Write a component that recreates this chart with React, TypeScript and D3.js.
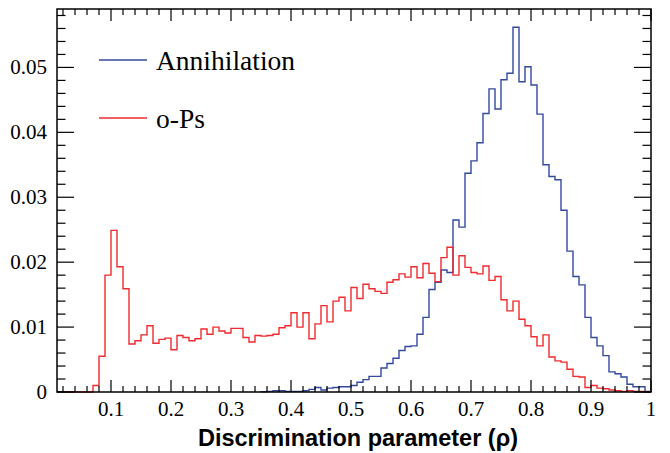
import React from "react";
import * as d3 from "d3";

// bin lower edges: 0.01 .. 0.99, width 0.01
const binWidth = 0.01;
const binStart = 0.01;

const oPs = [
  0, 0, 0, 0, 0, 0, 0.0010, 0.0055, 0.0180, 0.0249,
  0.0193, 0.0159, 0.0074, 0.0079, 0.0088, 0.0102, 0.0075, 0.0081, 0.0083, 0.0065,
  0.0087, 0.0084, 0.0079, 0.0082, 0.0097, 0.0089, 0.0100, 0.0094, 0.0091, 0.0098,
  0.0098, 0.0084, 0.0077, 0.0087, 0.0086, 0.0087, 0.0089, 0.0099, 0.0102, 0.0122,
  0.0100, 0.0122, 0.0082, 0.0105, 0.0133, 0.0108, 0.0140, 0.0146, 0.0125, 0.0161,
  0.0144, 0.0166, 0.0159, 0.0155, 0.0152, 0.0169, 0.0173, 0.0182, 0.0177, 0.0193,
  0.0176, 0.0198, 0.0183, 0.0170, 0.0207, 0.0223, 0.0180, 0.0210, 0.0192, 0.0184,
  0.0182, 0.0194, 0.0172, 0.0178, 0.0142, 0.0125, 0.0140, 0.0112, 0.0102, 0.0085,
  0.0071, 0.0088, 0.0054, 0.0048, 0.0046, 0.0035, 0.0024, 0.0023, 0.0007, 0.0010,
  0.0006, 0.0005, 0.0003, 0.0002, 0.0001, 0.0002, 0.0001, 0.0001, 0.0000,
];

const annihilation = [
  0, 0, 0, 0, 0, 0, 0, 0, 0, 0,
  0, 0, 0, 0, 0, 0, 0, 0, 0, 0,
  0, 0, 0, 0, 0, 0, 0, 0, 0, 0,
  0, 0, 0, 0, 0.00005, 0.0001, 0.0002, 0.0002, 0.0001, 0.0001,
  0.0001, 0.0002, 0.0004, 0.0007, 0.0003, 0.0006, 0.0007, 0.0008, 0.0008, 0.0010,
  0.0015, 0.0019, 0.0024, 0.0024, 0.0037, 0.0044, 0.0052, 0.0064, 0.0070, 0.0071,
  0.0089, 0.0115, 0.0158, 0.0169, 0.0188, 0.0184, 0.0265, 0.0254, 0.0337, 0.0356,
  0.0384, 0.0429, 0.0467, 0.0436, 0.0481, 0.0491, 0.0562, 0.0478, 0.0501, 0.0473,
  0.0428, 0.0350, 0.0332, 0.0327, 0.0280, 0.0217, 0.0178, 0.0165, 0.0115, 0.0084,
  0.0071, 0.0056, 0.0031, 0.0028, 0.0023, 0.0012, 0.0008, 0.0008, 0.0001,
];

const xTickValues = [0.1, 0.2, 0.3, 0.4, 0.5, 0.6, 0.7, 0.8, 0.9, 1.0];
const xTickLabels = ["0.1", "0.2", "0.3", "0.4", "0.5", "0.6", "0.7", "0.8", "0.9", "1"];
const yTickValues = [0, 0.01, 0.02, 0.03, 0.04, 0.05];
const yTickLabels = ["0", "0.01", "0.02", "0.03", "0.04", "0.05"];

const legendLabels = ["Annihilation", "o-Ps"];
const xTitle = "Discrimination parameter (\u03c1)";

const W = 670;
const H = 453;
const M = { left: 57, right: 651, top: 9, bottom: 392 };
const BLUE = "#34499c";
const RED = "#ee2b2f";

function stepPath(vals: number[], x: d3.ScaleLinear<number, number>, y: d3.ScaleLinear<number, number>, skipLeadingZeros: boolean) {
  let first = 0;
  if (skipLeadingZeros) {
    while (first < vals.length && vals[first] === 0) first++;
  }
  const pts: [number, number][] = [];
  const x0 = binStart + first * binWidth;
  pts.push([x(x0), y(0)]);
  for (let i = first; i < vals.length; i++) {
    const lo = binStart + i * binWidth;
    const hi = lo + binWidth;
    pts.push([x(lo), y(vals[i])]);
    pts.push([x(hi), y(vals[i])]);
  }
  pts.push([x(binStart + vals.length * binWidth), y(0)]);
  return d3.line()(pts) as string;
}

export default function App() {
  const x = d3.scaleLinear().domain([0.01, 1.0]).range([M.left, M.right]);
  const y = d3.scaleLinear().domain([0, 0.059]).range([M.bottom, M.top]);

  const xMinor = d3.range(0.02, 0.99, 0.02).filter((v) => Math.abs(v * 10 - Math.round(v * 10)) > 1e-6);
  const yMinor = d3.range(0.002, 0.059, 0.002).filter((v) => Math.abs(v * 100 - Math.round(v * 100)) > 1e-6);

  const serif = "Liberation Serif";
  const sans = "Liberation Sans";

  return (
    <svg width={W} height={H} style={{ position: "fixed", left: 0, top: 0, background: "#fff" }}>
      <rect x={0} y={0} width={W} height={H} fill="#fff" />
      {/* histograms */}
      <path d={stepPath(annihilation, x, y, true)} fill="none" stroke={BLUE} strokeWidth={1.4} />
      <path d={stepPath(oPs, x, y, false)} fill="none" stroke={RED} strokeWidth={1.4} />

      {/* frame */}
      <rect x={M.left} y={M.top} width={M.right - M.left} height={M.bottom - M.top} fill="none" stroke="#000" strokeWidth={1.5} />

      {/* x ticks bottom & top */}
      {xTickValues.map((v) => (
        <g key={"xm" + v}>
          <line x1={x(v)} x2={x(v)} y1={M.bottom} y2={M.bottom - 12} stroke="#000" strokeWidth={1.2} />
          <line x1={x(v)} x2={x(v)} y1={M.top} y2={M.top + 12} stroke="#000" strokeWidth={1.2} />
        </g>
      ))}
      {xMinor.map((v) => (
        <g key={"xn" + v}>
          <line x1={x(v)} x2={x(v)} y1={M.bottom} y2={M.bottom - 6} stroke="#000" strokeWidth={1.2} />
          <line x1={x(v)} x2={x(v)} y1={M.top} y2={M.top + 6} stroke="#000" strokeWidth={1.2} />
        </g>
      ))}
      {/* y ticks left & right */}
      {yTickValues.map((v) => (
        <g key={"ym" + v}>
          <line x1={M.left} x2={M.left + 17} y1={y(v)} y2={y(v)} stroke="#000" strokeWidth={1.2} />
          <line x1={M.right} x2={M.right - 17} y1={y(v)} y2={y(v)} stroke="#000" strokeWidth={1.2} />
        </g>
      ))}
      {yMinor.map((v) => (
        <g key={"yn" + v}>
          <line x1={M.left} x2={M.left + 8.5} y1={y(v)} y2={y(v)} stroke="#000" strokeWidth={1.2} />
          <line x1={M.right} x2={M.right - 8.5} y1={y(v)} y2={y(v)} stroke="#000" strokeWidth={1.2} />
        </g>
      ))}

      {/* tick labels */}
      {xTickValues.map((v, i) => (
        <text key={"xl" + v} x={x(v)} y={416} textAnchor="middle" fontFamily={serif} fontSize={21} fill="#000">
          {xTickLabels[i]}
        </text>
      ))}
      {yTickValues.map((v, i) => (
        <text key={"yl" + v} x={47} y={y(v) + 7} textAnchor="end" fontFamily={serif} fontSize={21} fill="#000">
          {yTickLabels[i]}
        </text>
      ))}

      {/* axis title */}
      <text x={358} y={446} textAnchor="middle" fontFamily={sans} fontWeight="bold" fontSize={23.5} fill="#000">
        {xTitle}
      </text>

      {/* legend */}
      <line x1={99} x2={147} y1={60} y2={60} stroke={BLUE} strokeWidth={1.4} />
      <text x={156} y={70} fontFamily={serif} fontSize={27.5} fill="#000">{legendLabels[0]}</text>
      <line x1={99} x2={147} y1={118} y2={118} stroke={RED} strokeWidth={1.4} />
      <text x={156} y={128} fontFamily={serif} fontSize={27.5} fill="#000">{legendLabels[1]}</text>
    </svg>
  );
}
